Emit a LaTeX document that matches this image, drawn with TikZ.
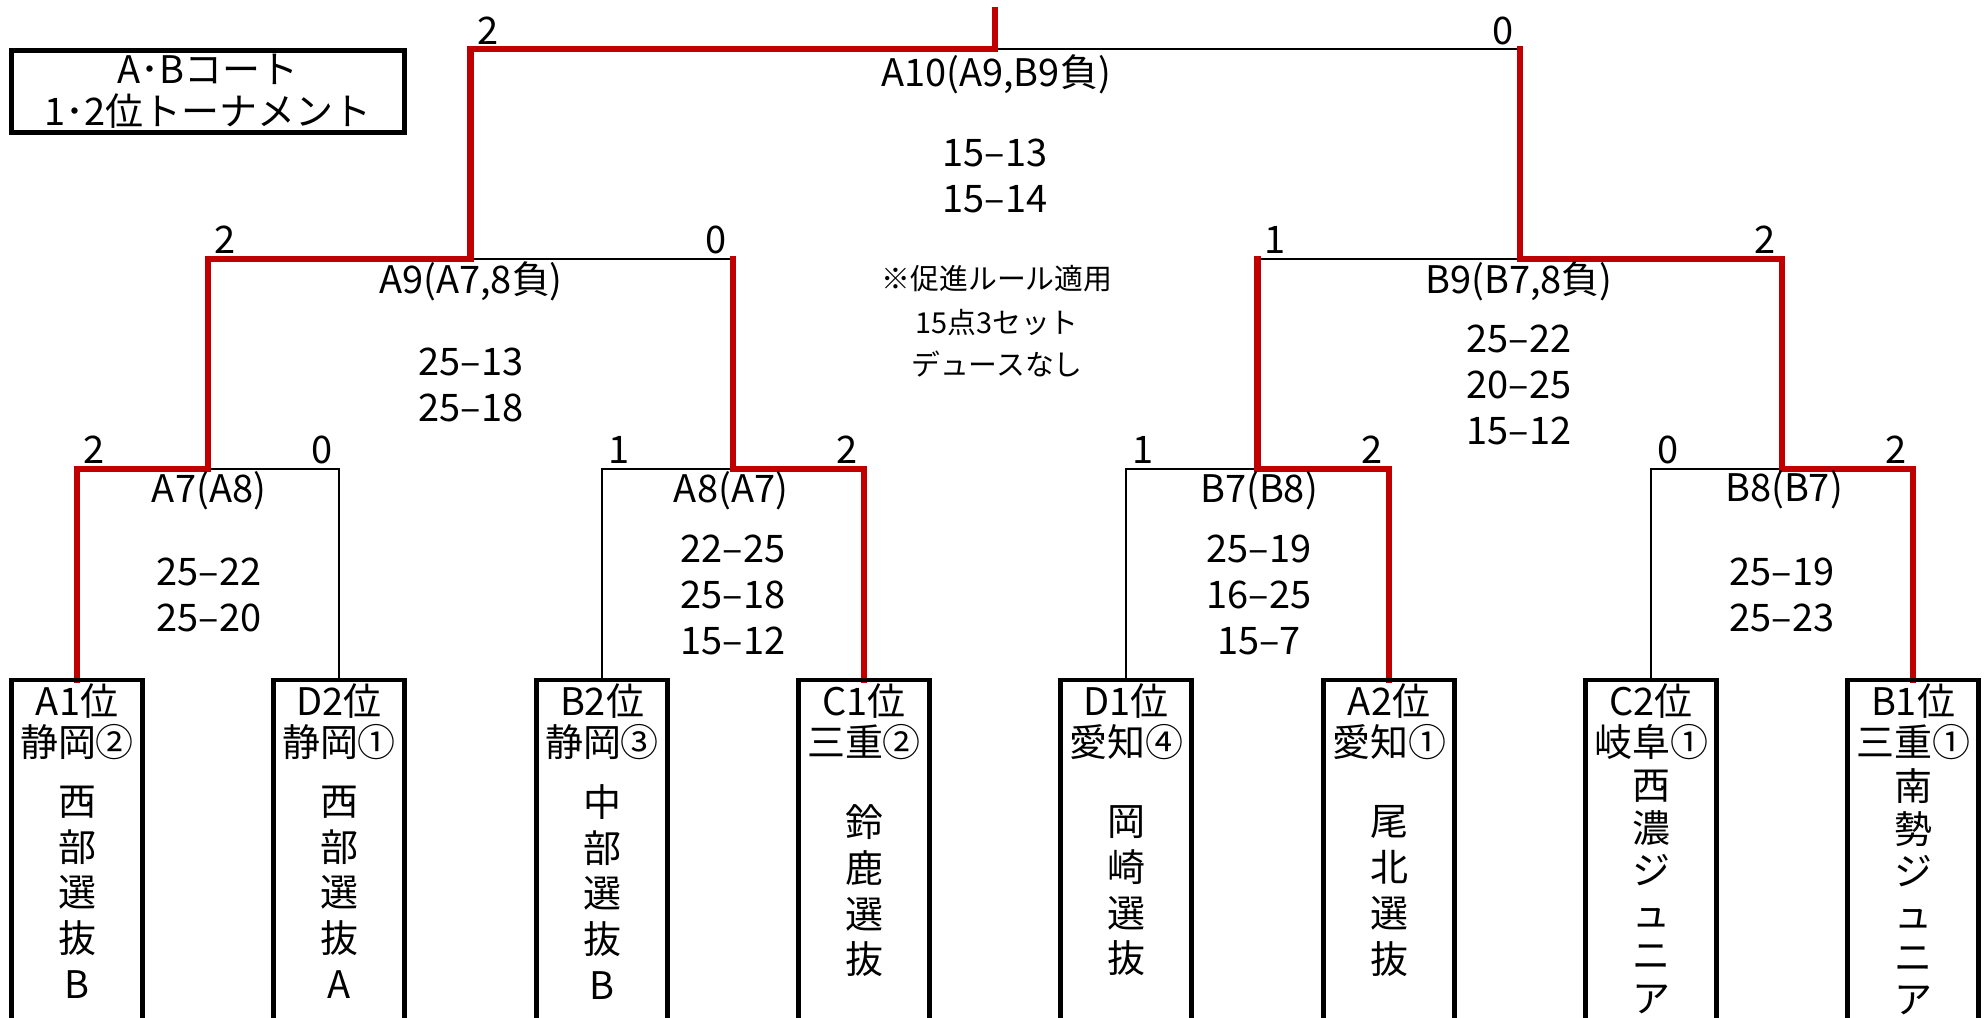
\documentclass[tikz,border=0pt]{standalone}
\usepackage{fontspec}
\setmainfont{Noto Sans CJK JP}
\usepackage{xcolor}
\definecolor{winred}{HTML}{C00000}
\tikzset{
	winpath/.style={line width=1.85pt, winred, line join=miter, line cap=rect},
	bracket/.style={line width=0.7pt},
	teamline/.style={line width=1.4pt},
	team/.style={anchor=north, minimum width=1.29cm, minimum height=3.45cm, inner sep=0pt},
	lbl/.style={font=\fontsize{10.8}{13}\selectfont, inner sep=0pt},
	vname/.style={font=\fontsize{10.8}{13}\selectfont, inner sep=0pt, align=center},
	vnamelong/.style={font=\fontsize{10.8}{12.1}\selectfont, inner sep=0pt, align=center},
	note/.style={font=\fontsize{8.2}{10}\selectfont, inner sep=0pt},
}

\begin{document}
\begin{tikzpicture}[x=0.01cm, y=-0.01cm]
			\useasboundingbox (0,0) rectangle (1984,1017);

			% title
			\node[draw, line width=1.4pt, minimum width=3.92cm, minimum height=0.82cm, inner sep=0pt, align=center, font=\fontsize{10.8}{11.9}\selectfont] (title) at (208,91.5) {A･Bコート\\1･2位トーナメント};

			% teams
			\node[team] (a1) at (77,680) {};
			\node[team] (d2) at (339,680) {};
			\node[team] (b2) at (602,680) {};
			\node[team] (c1) at (864,680) {};
			\node[team] (d1) at (1126,680) {};
			\node[team] (a2) at (1389,680) {};
			\node[team] (c2) at (1651,680) {};
			\node[team] (b1) at (1913,680) {};

			% matches
			\coordinate (A7) at (208,469);
			\coordinate (A8) at (733,469);
			\coordinate (B7) at (1257.5,469);
			\coordinate (B8) at (1782,469);
			\coordinate (A9) at (470.5,259);
			\coordinate (B9) at (1519.75,259);
			\coordinate (A10) at (995,49);
			\coordinate (top) at (995,10);

			% losers
			\draw[bracket] (A7) -| (d2.north);
			\draw[bracket] (A8) -| (b2.north);
			\draw[bracket] (B7) -| (d1.north);
			\draw[bracket] (B8) -| (c2.north);
			\draw[bracket] (A9) -- (A8 |- A9);
			\draw[bracket] (B9) -- (B7 |- B9);
			\draw[bracket] (A10) -- (B9 |- A10);

			% winners
			\draw[winpath] (a1.north) |- (A7) |- (A9) |- (A10) -- (top);
			\draw[winpath] (c1.north) |- (A8) -- (A8 |- A9);
			\draw[winpath] (a2.north) |- (B7) -- (B7 |- B9);
			\draw[winpath] (b1.north) |- (B8) |- (B9) -- (B9 |- A10);

			% team boxes
			\foreach \t in {a1,d2,b2,c1,d1,a2,c2,b1}
				\draw[teamline] (\t.south west) |- (\t.north) -| (\t.south east);

			\node[lbl] (a1rank) at (77,701) {A1位};
			\node[lbl] (a1pref) at (77,742) {静岡②};
			\node[vname] (a1name) at (77,892) {西\\部\\選\\抜\\B};

			\node[lbl] (d2rank) at (339,701) {D2位};
			\node[lbl] (d2pref) at (339,742) {静岡①};
			\node[vname] (d2name) at (339,892) {西\\部\\選\\抜\\A};

			\node[lbl] (b2rank) at (602,701) {B2位};
			\node[lbl] (b2pref) at (602,742) {静岡③};
			\node[vname] (b2name) at (602,892) {中\\部\\選\\抜\\B};

			\node[lbl] (c1rank) at (864,701) {C1位};
			\node[lbl] (c1pref) at (864,742) {三重②};
			\node[vname] (c1name) at (864,891) {鈴\\鹿\\選\\抜};

			\node[lbl] (d1rank) at (1126,701) {D1位};
			\node[lbl] (d1pref) at (1126,742) {愛知④};
			\node[vname] (d1name) at (1126,891) {岡\\崎\\選\\抜};

			\node[lbl] (a2rank) at (1389,701) {A2位};
			\node[lbl] (a2pref) at (1389,742) {愛知①};
			\node[vname] (a2name) at (1389,891) {尾\\北\\選\\抜};

			\node[lbl] (c2rank) at (1651,701) {C2位};
			\node[lbl] (c2pref) at (1651,742) {岐阜①};
			\node[vnamelong] (c2name) at (1651,892) {西\\濃\\ジ\\ュ\\ニ\\ア};

			\node[lbl] (b1rank) at (1913,701) {B1位};
			\node[lbl] (b1pref) at (1913,742) {三重①};
			\node[vnamelong] (b1name) at (1913,892) {南\\勢\\ジ\\ュ\\ニ\\ア};

			% set counts
			\node[lbl] (A7l) at (94,450) {2};
			\node[lbl] (A7r) at (322,450) {0};
			\node[lbl] (A8l) at (619,450) {1};
			\node[lbl] (A8r) at (847,450) {2};
			\node[lbl] (B7l) at (1143,450) {1};
			\node[lbl] (B7r) at (1372,450) {2};
			\node[lbl] (B8l) at (1668,450) {0};
			\node[lbl] (B8r) at (1896,450) {2};
			\node[lbl] (A9l) at (225,240) {2};
			\node[lbl] (A9r) at (716,240) {0};
			\node[lbl] (B9l) at (1275,240) {1};
			\node[lbl] (B9r) at (1765,240) {2};
			\node[lbl] (A10l) at (488,31) {2};
			\node[lbl] (A10r) at (1503,31) {0};

			% match names and scores
			\node[lbl] (A7lbl) at (209,491) {A7(A8)};
			\node[lbl, align=center] (A7sc) at (209,595) {25–22\\25–20};

			\node[lbl] (A8lbl) at (731,491) {A8(A7)};
			\node[lbl, align=center] (A8sc) at (733,595) {22–25\\25–18\\15–12};

			\node[lbl] (B7lbl) at (1259,491) {B7(B8)};
			\node[lbl, align=center] (B7sc) at (1259,595) {25–19\\16–25\\15–7};

			\node[lbl] (B8lbl) at (1784,490) {B8(B7)};
			\node[lbl, align=center] (B8sc) at (1782,595) {25–19\\25–23};

			\node[lbl] (A9lbl) at (471,281) {A9(A7,8負)};
			\node[lbl, align=center] (A9sc) at (471,385) {25–13\\25–18};

			\node[lbl] (B9lbl) at (1519,281) {B9(B7,8負)};
			\node[lbl, align=center] (B9sc) at (1519,385) {25–22\\20–25\\15–12};

			\node[lbl] (A10lbl) at (996,74) {A10(A9,B9負)};
			\node[lbl, align=center] (A10sc) at (995,176) {15–13\\15–14};

			% rule note
			\node[note] (rule1) at (997,279) {※促進ルール適用};
			\node[note] (rule2) at (997,323) {15点3セット};
			\node[note] (rule3) at (997,364) {デュースなし};
\end{tikzpicture}
\end{document}
